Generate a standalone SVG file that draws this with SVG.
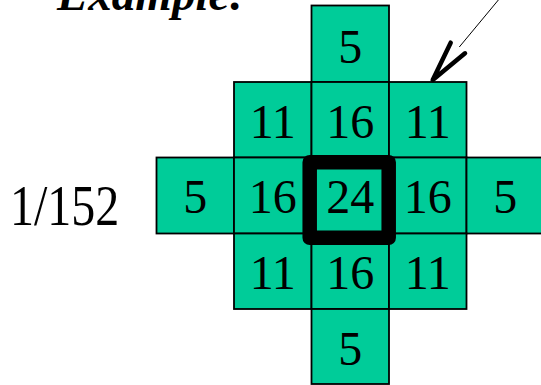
<svg xmlns="http://www.w3.org/2000/svg" width="541" height="385" viewBox="0 0 541 385">
<style>
.cell rect{fill:#00CC99;stroke:#000;stroke-width:1.8}
.cell text{font-family:"Liberation Serif","Times New Roman",serif;font-size:48px;text-anchor:middle;fill:#000}
.lbl{font-family:"Liberation Serif","Times New Roman",serif;fill:#000}
</style>
<rect width="541" height="385" fill="#fff"/>
<text class="lbl" x="57" y="10" font-size="47" font-weight="bold" font-style="italic">Example:</text>
<text class="lbl" transform="translate(10,225) scale(1,1.2)" x="0" y="0" font-size="48">1/152</text>
<g id="c-0-2" class="cell"><rect x="311.5" y="5.5" width="77.5" height="76.5"/><text x="350.25" y="63">5</text></g>
<g id="c-1-1" class="cell"><rect x="234" y="82" width="77.5" height="75.5"/><text x="272.75" y="138">11</text></g>
<g id="c-1-2" class="cell"><rect x="311.5" y="82" width="77.5" height="75.5"/><text x="350.25" y="138">16</text></g>
<g id="c-1-3" class="cell"><rect x="389" y="82" width="77.5" height="75.5"/><text x="427.75" y="138">11</text></g>
<g id="c-2-0" class="cell"><rect x="156.5" y="157.5" width="77.5" height="76"/><text x="195.25" y="213">5</text></g>
<g id="c-2-1" class="cell"><rect x="234" y="157.5" width="77.5" height="76"/><text x="272.75" y="213">16</text></g>
<g id="c-2-2" class="cell"><rect x="311.5" y="157.5" width="77.5" height="76"/><text x="350.25" y="213">24</text></g>
<g id="c-2-3" class="cell"><rect x="389" y="157.5" width="77.5" height="76"/><text x="427.75" y="213">16</text></g>
<g id="c-2-4" class="cell"><rect x="466.5" y="157.5" width="77.5" height="76"/><text x="505.25" y="213">5</text></g>
<g id="c-3-1" class="cell"><rect x="234" y="233.5" width="77.5" height="75.5"/><text x="272.75" y="289">11</text></g>
<g id="c-3-2" class="cell"><rect x="311.5" y="233.5" width="77.5" height="75.5"/><text x="350.25" y="289">16</text></g>
<g id="c-3-3" class="cell"><rect x="389" y="233.5" width="77.5" height="75.5"/><text x="427.75" y="289">11</text></g>
<g id="c-4-2" class="cell"><rect x="311.5" y="309" width="77.5" height="75"/><text x="350.25" y="365">5</text></g>
<g id="highlight"><rect x="309.7" y="162.2" width="79" height="75.6" fill="none" stroke="#000" stroke-width="14.5" stroke-linejoin="round"/></g>
<g id="connectors">
<line x1="505" y1="-8" x2="459.3" y2="47" stroke="#000" stroke-width="1"/>
<polyline points="450.7,42.7 432.7,80 465,53.3" fill="none" stroke="#000" stroke-width="4.5" stroke-linecap="round" stroke-linejoin="round"/>
</g>
</svg>
